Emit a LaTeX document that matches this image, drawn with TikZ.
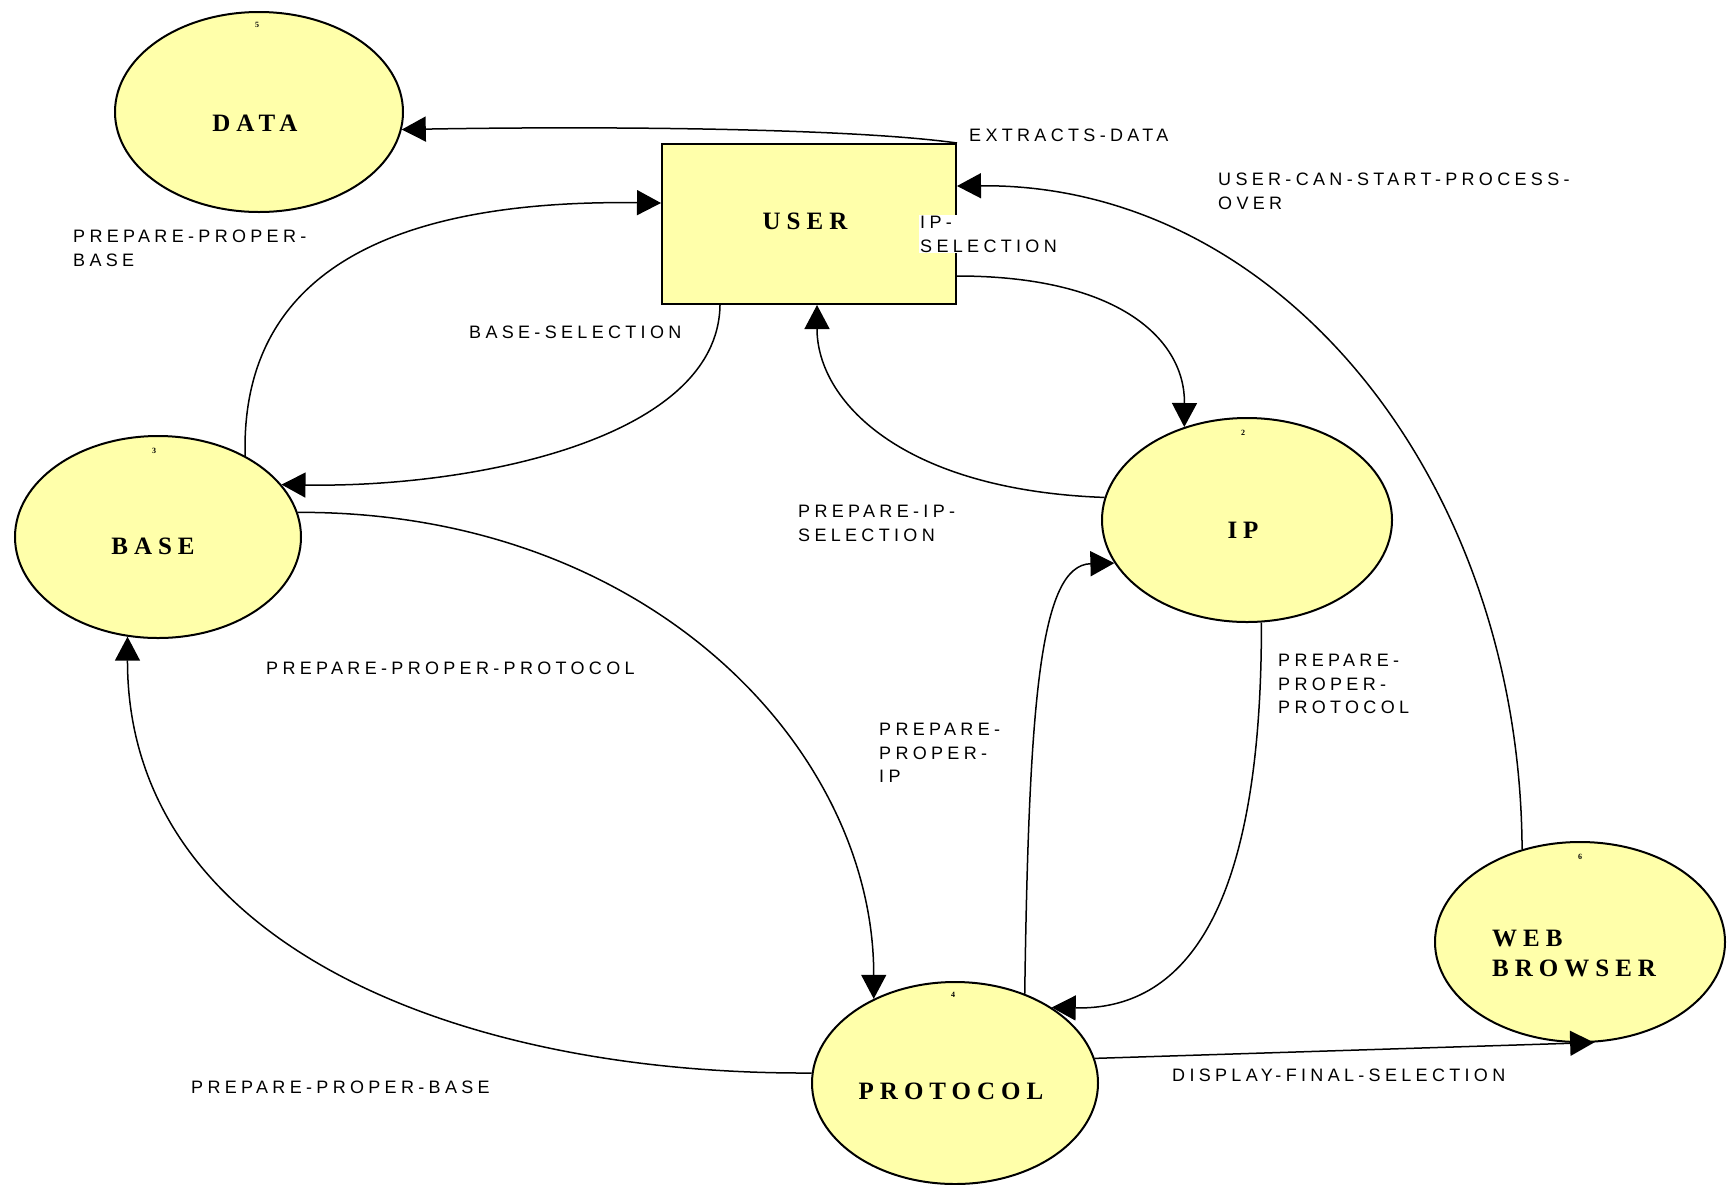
\documentclass[tikz,border=0pt]{standalone}
\usepackage{fontspec}
\usetikzlibrary{shapes.geometric,arrows.meta}
\newfontfamily\lblfont[LetterSpace=24]{Liberation Sans}
\newfontfamily\nmfont[LetterSpace=24]{Liberation Serif}
\definecolor{procfill}{RGB}{255,255,170}
\begin{document}
\begin{tikzpicture}[x=1pt,y=-1pt,
  proc/.style={ellipse, draw=black, line width=2pt, fill=procfill, minimum width=288pt, minimum height=200pt, inner sep=0pt},
  ent/.style={rectangle, draw=black, line width=2pt, fill=procfill, minimum width=294pt, minimum height=160pt, inner sep=0pt},
  flow/.style={draw=black, line width=1.5pt, -{Triangle[length=24pt,width=25pt]}},
  lbl/.style={font=\lblfont\fontsize{18}{23.5}\selectfont, anchor=north west, inner sep=0pt, align=left},
  nm/.style={font=\nmfont\bfseries\fontsize{25}{30}\selectfont, inner sep=0pt},
  num/.style={font=\nmfont\bfseries\fontsize{8}{8}\selectfont, inner sep=0pt}]
\useasboundingbox (0,0) rectangle (1731,1184);
\fill[white] (0,0) rectangle (1731,1184);
% shapes
\node[proc] (data) at (259,112) {};
\node[proc, minimum width=286pt, minimum height=202pt] (base) at (158,537) {};
\node[proc, minimum width=290pt, minimum height=204pt] (ip) at (1247,520) {};
\node[proc, minimum width=286pt, minimum height=202pt] (protocol) at (955,1083) {};
\node[proc, minimum width=290pt, minimum height=200pt] (web) at (1580,942) {};
\node[ent] (user) at (809,224) {};
% names
\node[nm] (tdata) at (255,123) {DATA};
\node[nm] (tuser) at (805,221) {USER};
\node[nm] (tbase) at (153,546) {BASE};
\node[nm] (tip) at (1243,530) {IP};
\node[nm] (tprot) at (951,1091) {PROTOCOL};
\node[nm, anchor=north west, align=left, font=\nmfont\bfseries\fontsize{25}{30}\selectfont] (tweb) at (1492,930) {WEB\\BROWSER};
% numbers
\node[num] (n5) at (257,25) {5};
\node[num] (n3) at (154,451) {3};
\node[num] (n2) at (1243,433) {2};
\node[num] (n4) at (953,995) {4};
\node[num] (n6) at (1580,857) {6};
% connectors
\draw[flow] (user.north east) .. controls (850,128) and (600,126) .. (data.-7);
\draw[flow] (web.122) .. controls (1520,480) and (1280,183) .. ([yshift=38pt]user.east);
\draw[flow] (base.43) .. controls (240,250) and (430,200) .. ([yshift=21pt]user.west);
\draw[flow] ([xshift=-89pt]user.south) .. controls (718,440) and (470,488) .. (base.23);
\draw[flow] ([yshift=-52pt]user.east) .. controls (1120,276) and (1185,340) .. (ip.124);
\draw[flow] (ip.171) .. controls (900,490) and (817,400) .. ([xshift=8pt]user.south);
\draw[flow] (base.10.5) .. controls (650,511) and (874,750) .. (protocol.134);
\draw[flow] (protocol.176) .. controls (450,1075) and (127,940) .. (base.-107);
\draw[flow] (protocol.52) .. controls (1029,700) and (1040,565) .. (ip.198);
\draw[flow] (ip.-82) .. controls (1262,920) and (1180,1010) .. (protocol.38);
\draw[flow] (protocol.10) -- (web.-82);
% labels
\node[lbl] (l1) at (969,129) {EXTRACTS-DATA};
\node[lbl] (l2) at (1218,173) {USER-CAN-START-PROCESS-\\OVER};
\node[lbl] (l3) at (73,230) {PREPARE-PROPER-\\BASE};
\node[lbl, fill=white, inner sep=1pt] (l4) at (919,215) {IP-\\SELECTION};
\node[lbl] (l5) at (469,326) {BASE-SELECTION};
\node[lbl] (l6) at (798,505) {PREPARE-IP-\\SELECTION};
\node[lbl] (l7) at (266,662) {PREPARE-PROPER-PROTOCOL};
\node[lbl] (l8) at (1278,654) {PREPARE-\\PROPER-\\PROTOCOL};
\node[lbl] (l9) at (879,723) {PREPARE-\\PROPER-\\IP};
\node[lbl] (l10) at (191,1081) {PREPARE-PROPER-BASE};
\node[lbl] (l11) at (1172,1069) {DISPLAY-FINAL-SELECTION};
\end{tikzpicture}
\end{document}
